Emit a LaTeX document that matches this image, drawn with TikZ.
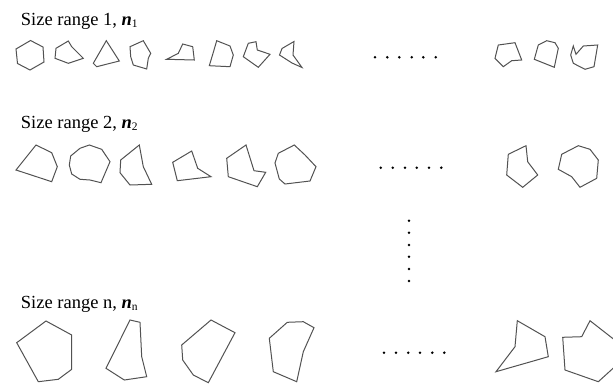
\documentclass[tikz,border=0pt]{standalone}
\usepackage{fontspec}
\setmainfont{Liberation Serif}
\begin{document}
\begin{tikzpicture}[x=1pt,y=-1pt,
  poly/.style={draw=black!68,line width=1pt,line join=miter},
  dotmark/.style={fill=black},
  lbl/.style={anchor=base west,inner sep=0pt,font=\fontsize{18.5}{22}\selectfont}]
\useasboundingbox (0,0) rectangle (613,383);
\clip (0,0) rectangle (613,383);
\newcommand{\sbs}[1]{\raisebox{-0.3ex}{\fontsize{11.5}{13}\selectfont #1}}
% labels
\node[lbl] (l1) at (20.7,25) {Size range 1, \textbf{\textit{n}}\sbs{1}};
\node[lbl] (l2) at (20.7,128.3) {Size range 2, \textbf{\textit{n}}\sbs{2}};
\node[lbl] (l3) at (20.7,308.3) {Size range n, \textbf{\textit{n}}\sbs{n}};
% row 1
\draw[poly] (30.5,40.5) -- (43,47) -- (44,62) -- (30,70) -- (17.5,63.5) -- (16,49) -- cycle;
\draw[poly] (56,48.3) -- (68.3,41) -- (71.7,46.7) -- (83.3,58.3) -- (68.3,63.3) -- (55,58.3) -- cycle;
\draw[poly] (106.3,40.7) -- (119.3,61) -- (96.7,66.7) -- (93.3,63.3) -- cycle;
\draw[poly] (130,46.7) -- (143.3,40.7) -- (150.7,53.3) -- (148.3,58.3) -- (146.7,69) -- (133.3,65) -- (130.7,56.7) -- cycle;
\draw[poly] (166.7,59.3) -- (178.3,53.3) -- (182.7,44) -- (192.7,46.7) -- (194.3,60) -- cycle;
\draw[poly] (216.7,40.7) -- (230,46) -- (233.3,55) -- (230,66.7) -- (209.3,65.7) -- (214,50) -- cycle;
\draw[poly] (248.3,43.3) -- (256,41.7) -- (257.3,50) -- (270,54.3) -- (258.3,67.3) -- (243.3,56.7) -- cycle;
\draw[poly] (294,41.5) -- (293,55) -- (302,67.5) -- (292,63) -- (279.5,55) -- (282,48.5) -- cycle;
\draw[poly] (498.3,45) -- (515,42.7) -- (521.7,60) -- (511.7,60.7) -- (503.3,66.7) -- (495,58.3) -- cycle;
\draw[poly] (538.3,45) -- (546.7,40.7) -- (555,42.7) -- (558.3,48.3) -- (554.3,67.3) -- (534.3,59.3) -- cycle;
\draw[poly] (573.3,46) -- (576,54.3) -- (583.3,46) -- (597.7,45) -- (594,66.7) -- (585,69.3) -- (573.3,63.3) -- (570.7,55) -- cycle;
% row 2
\draw[poly] (36,145) -- (51.7,152.7) -- (57.3,166.7) -- (51.7,181.7) -- (16,170) -- cycle;
\draw[poly] (89.3,145) -- (101.7,149.3) -- (110,161.7) -- (101,182.7) -- (90,180) -- (80,179.3) -- (71.7,174) -- (69.3,165) -- (70.7,156) -- (80,148.3) -- cycle;
\draw[poly] (139.3,145) -- (143.3,166.7) -- (151.7,184.3) -- (130,185) -- (120,172.7) -- (120.7,160) -- cycle;
\draw[poly] (172.7,162.3) -- (191.7,151) -- (197.7,168.3) -- (211,176.7) -- (177.3,180.7) -- cycle;
\draw[poly] (226.7,158.3) -- (246,145) -- (254,170.7) -- (265.7,172.3) -- (257.3,186.7) -- (228.3,176.7) -- cycle;
\draw[poly] (278.3,153.3) -- (294.3,145) -- (305,155) -- (316,166.7) -- (310,181) -- (285,184) -- (279.3,179) -- (275,163) -- cycle;
\draw[poly] (508.3,154.3) -- (526,145.7) -- (527.7,161.7) -- (537.7,175) -- (522.7,187.3) -- (506.7,175) -- cycle;
\draw[poly] (561.7,154.3) -- (578.3,145.7) -- (590,149.3) -- (598.3,160) -- (596.7,178.3) -- (580,187.3) -- (571.7,176.7) -- (558.3,169.3) -- cycle;
% row 3
\draw[poly] (16.7,342.7) -- (46,321) -- (71.7,335) -- (71.7,369.3) -- (58.3,379.3) -- (38.3,381.7) -- cycle;
\draw[poly] (130,320) -- (140,322.3) -- (141.7,356.7) -- (146.7,376.7) -- (124.3,380) -- (106,368.3) -- cycle;
\draw[poly] (211,320) -- (235,332.7) -- (208.3,382.7) -- (193.3,375) -- (182.7,360) -- (181.7,345) -- cycle;
\draw[poly] (287.3,322.3) -- (303.3,321.7) -- (314,327.7) -- (303.3,351.7) -- (296.7,381.7) -- (273.3,371.7) -- (269.3,338.3) -- cycle;
\draw[poly] (517.3,320.7) -- (545,336.7) -- (548.3,356.7) -- (496,371.7) -- (515,346.7) -- cycle;
\draw[poly] (562.7,337.3) -- (581.7,336.7) -- (590,320.7) -- (616,341) -- (620,362) -- (598.3,381.7) -- (565,370) -- cycle;
% dots
\foreach \x in {375,387.3,399.3,411.7,423.3,435.7} \fill[dotmark] (\x,57.3) circle (1.4);
\foreach \x in {380.7,392.7,405,416.7,429,441.3} \fill[dotmark] (\x,167.7) circle (1.4);
\foreach \y in {220.7,232.7,245,256.7,269,281} \fill[dotmark] (409,\y) circle (1.4);
\foreach \x in {384,396,408.3,420,432.3,444.3} \fill[dotmark] (\x,352.7) circle (1.4);
\end{tikzpicture}
\end{document}
